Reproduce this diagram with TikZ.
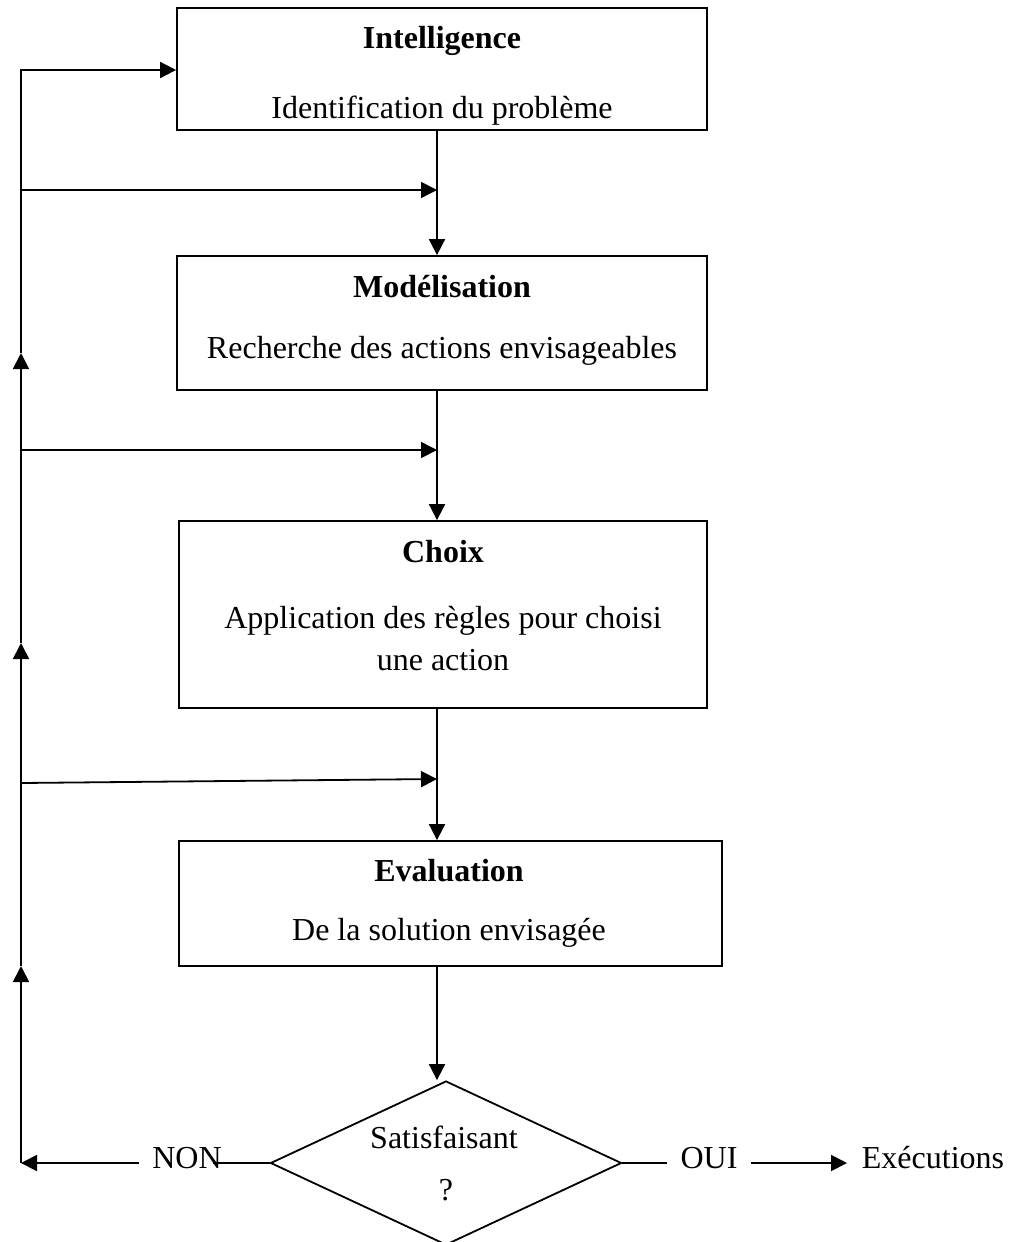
\documentclass[tikz,border=0pt]{standalone}
\usepackage{fontspec}
\setmainfont{Liberation Serif}
\usetikzlibrary{arrows.meta,shapes.geometric}

\begin{document}
\begin{tikzpicture}[x=1pt,y=-1pt,
  line width=1.8pt,
  stagebox/.style={draw, rectangle, inner sep=0pt},
  txt/.style={anchor=base, inner sep=0pt, font=\fontsize{32}{38}\selectfont},
  ttl/.style={txt, font=\fontsize{32}{38}\selectfont\bfseries},
  arr/.style={-{Triangle[length=16pt,width=16pt]}}
]
\useasboundingbox (0,0) rectangle (1015,1242);

% stage boxes
\node[stagebox, minimum width=530pt, minimum height=122pt] (I) at (442,69) {};
\node[stagebox, minimum width=530pt, minimum height=134pt] (M) at (442,323) {};
\node[stagebox, minimum width=528pt, minimum height=187pt] (C) at (443,614.5) {};
\node[stagebox, minimum width=543pt, minimum height=125pt] (E) at (450.5,903.5) {};
\node[draw, diamond, inner sep=0pt, minimum width=351pt, minimum height=164pt] (D) at (446,1163) {};

% stage texts
\node[ttl] (It) at (442,48) {Intelligence};
\node[txt] (Is) at (442,118) {Identification du problème};
\node[ttl] (Mt) at (442,297) {Modélisation};
\node[txt] (Ms) at (442,358) {Recherche des actions envisageables};
\node[ttl] (Ct) at (443,562) {Choix};
\node[txt] (Cs1) at (443,628) {Application des règles pour choisi};
\node[txt] (Cs2) at (443,670) {une action};
\node[ttl] (Et) at (449,881) {Evaluation};
\node[txt] (Es) at (449,940) {De la solution envisagée};
\node[txt] (Dt1) at (444,1148) {Satisfaisant};
\node[txt] (Dt2) at (446,1200) {?};

% decision outcome labels
\node[txt] (non) at (187,1168) {NON};
\node[txt] (oui) at (709,1168) {OUI};
\node[txt] (exe) at (933,1168) {Exécutions};

% main axis and helper points
\coordinate (ax) at (437,0);
\coordinate (L0) at (21,1163);
\coordinate (L1) at (21,966);
\coordinate (L2) at (21,643);
\coordinate (L3) at (21,353);
\coordinate (L4) at (21,70);
\coordinate (B1) at (21,190);
\coordinate (B2) at (21,450);
\coordinate (B3) at (21,783);
\coordinate (B3e) at (437,779);
\coordinate (nonR) at (213,1163);
\coordinate (nonL) at (139,1163);
\coordinate (ouiL) at (667,1163);
\coordinate (ouiR) at (751,1163);
\coordinate (exeL) at (847,1163);

% downward flow
\draw[arr] (I.south -| ax) -- (M.north -| ax);
\draw[arr] (M.south -| ax) -- (C.north -| ax);
\draw[arr] (C.south -| ax) -- (E.north -| ax);
\draw[arr] (E.south -| ax) -- (D.north -| ax);

% NON branch and feedback loop
\draw (D.west) -- (nonR);
\draw[arr] (nonL) -- (L0);
\draw[arr] (L0) -- (L1);
\draw[arr] (L1) -- (L2);
\draw[arr] (L2) -- (L3);
\draw[arr] (L3) -- (L4) -- (I.west |- L4);
\draw[arr] (B1) -- (B1 -| ax);
\draw[arr] (B2) -- (B2 -| ax);
\draw[arr] (B3) -- (B3e);

% OUI branch
\draw (D.east) -- (ouiL);
\draw[arr] (ouiR) -- (exeL);
\end{tikzpicture}
\end{document}
